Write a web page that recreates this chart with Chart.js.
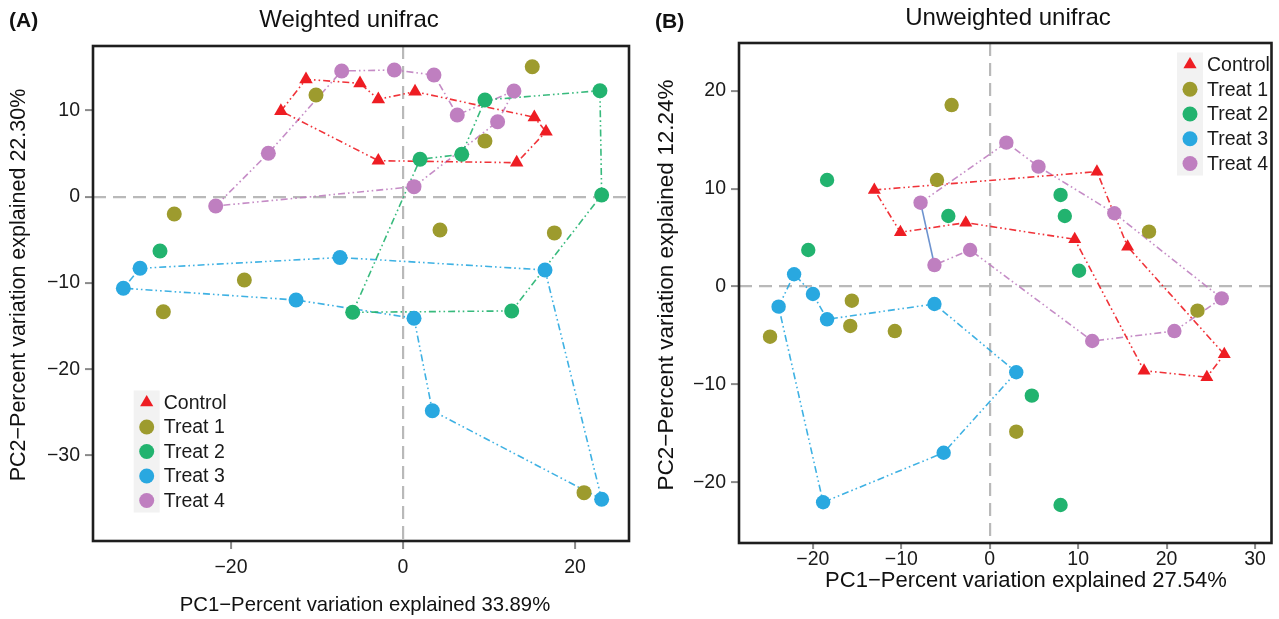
<!DOCTYPE html>
<html><head><meta charset="utf-8">
<script src="https://cdn.jsdelivr.net/npm/chart.js@4.4.1/dist/chart.umd.min.js"></script>
<style>
html,body{margin:0;padding:0;background:#fff;width:1279px;height:619px;overflow:hidden}
#wa{position:absolute;left:0;top:0;width:640px;height:619px}
#wb{position:absolute;left:640px;top:0;width:639px;height:619px}
</style></head><body>
<div id="wa"><canvas id="ca"></canvas></div>
<div id="wb"><canvas id="cb"></canvas></div>
<script>
// ---------- data ----------
const SERIES = ['Control', 'Treat 1', 'Treat 2', 'Treat 3', 'Treat 4'];
const COLORS = ['#ee1d23', '#9d9b2e', '#22b36f', '#29a8e0', '#bf7fc0'];

// Panel A: Weighted unifrac  [PC1, PC2]
const A_CONTROL = [[-14.2,9.93],[-11.28,13.6],[-5.0,13.14],[-2.87,11.29],[1.40,12.17],[15.27,9.2],[16.63,7.53],[13.22,3.94],[-2.87,4.17]];
const A_T1 = [[-10.12,11.79],[-26.6,-2.0],[15.03,15.06],[9.53,6.45],[4.3,-3.86],[17.6,-4.2],[-18.45,-9.65],[-27.87,-13.33],[21.05,-34.3]];
const A_T2 = [[-5.85,-13.4],[1.98,4.33],[6.83,4.91],[9.53,11.2],[22.9,12.28],[23.1,0.2],[12.64,-13.24],[-28.26,-6.3]];
const A_T3 = [[-30.58,-8.3],[-7.33,-7.05],[16.51,-8.49],[23.1,-35.06],[3.41,-24.8],[1.28,-14.09],[-12.44,-11.97],[-32.52,-10.61]];
const A_T4 = [[-21.78,-1.08],[-15.66,5.03],[-7.13,14.57],[-1.01,14.68],[3.6,14.1],[6.31,9.47],[12.9,12.25],[11.0,8.69],[1.28,1.16]];
// outline paths (indices, closed)
const A_CONTROL_HULL = [0,1,2,3,4,5,6,7,8];
const A_T1_HULL = [];
const A_T2_HULL = [0,1,2,3,4,5,6];
const A_T3_HULL = [0,1,2,3,4,5,6,7];
const A_T4_HULL = [0,1,2,3,4,5,6,7,8];

// Panel B: Unweighted unifrac
const B_CONTROL = [[-13.05,9.87],[12.12,11.74],[15.59,4.08],[26.52,-6.92],[24.55,-9.26],[17.45,-8.59],[9.61,4.83],[-2.71,6.53],[-10.1,5.55]];
const B_T1 = [[-4.31,18.54],[-5.96,10.89],[-15.59,-1.44],[-15.77,-4.02],[-10.73,-4.54],[-24.84,-5.12],[18.01,5.61],[23.49,-2.46],[3.0,-14.82]];
const B_T2 = [[-18.39,10.89],[-4.68,7.21],[-20.52,3.74],[8.01,9.36],[8.49,7.21],[10.1,1.62],[4.76,-11.14],[8.01,-22.31]];
const B_T3 = [[-23.87,-2.05],[-22.12,1.26],[-19.99,-0.76],[-18.39,-3.34],[-6.25,-1.78],[3.0,-8.75],[-5.21,-16.97],[-18.84,-22.03]];
const B_T4 = [[-7.82,8.57],[1.88,14.7],[5.51,12.25],[14.09,7.49],[26.23,-1.2],[20.88,-4.54],[11.59,-5.56],[-2.22,3.74],[-6.25,2.2]];
const B_CONTROL_HULL = [0,1,2,3,4,5,6,7,8];
const B_T1_HULL = [];
const B_T2_HULL = [];
const B_T3_HULL = [0,1,2,3,4,5,6,7];
const B_T4_HULL = [0,1,2,3,4,5,6,7,8];

// tick values
const A_X_TICKS = [-20, 0, 20];
const A_Y_TICKS = [-30, -20, -10, 0, 10];
const B_X_TICKS = [-20, -10, 0, 10, 20, 30];
const B_Y_TICKS = [-20, -10, 0, 10, 20];

// ---------- drawing ----------
const FONT = '"Liberation Sans", Arial, Helvetica, sans-serif';
const fmt = v => (v < 0 ? '\u2212' + Math.abs(v) : String(v));

function hexA(h, a) {
  const n = parseInt(h.slice(1), 16);
  return `rgba(${n >> 16},${(n >> 8) & 255},${n & 255},${a})`;
}

function buildDatasets(groups, hulls, radius, closeFix) {
  const ds = [];
  groups.forEach((pts, i) => {
    const hull = hulls[i];
    if (hull.length) {
      const path = hull.map(k => ({x: pts[k][0], y: pts[k][1]}));
      path.push({x: pts[hull[0]][0], y: pts[hull[0]][1]});
      const last = path.length - 1;
      const d = {
        label: SERIES[i] + ' outline', data: path, showLine: true, pointRadius: 0,
        borderColor: hexA(COLORS[i], 0.9), borderWidth: 1.6,
        borderDash: [7, 3, 1.6, 3, 1.6, 3], order: 10, fill: false
      };
      if (closeFix && closeFix === i) {
        d.segment = {
          borderColor: c => c.p1DataIndex === last ? '#6d93cf' : undefined,
          borderDash: c => c.p1DataIndex === last ? [] : undefined
        };
      }
      ds.push(d);
    }
  });
  groups.forEach((pts, i) => {
    ds.push({
      label: SERIES[i], data: pts.map(p => ({x: p[0], y: p[1]})),
      pointStyle: i === 0 ? 'triangle' : 'circle',
      pointRadius: i === 0 ? radius + 0.3 : radius,
      pointBackgroundColor: COLORS[i], pointBorderWidth: 0,
      borderColor: COLORS[i], order: 5 - i
    });
  });
  return ds;
}

const panelPlugin = {
  id: 'panel',
  afterDraw(chart, args, o) {
    const ctx = chart.ctx, a = chart.chartArea;
    ctx.save();
    ctx.strokeStyle = '#1e1e1e'; ctx.lineWidth = 2.6;
    ctx.strokeRect(a.left, a.top, a.right - a.left, a.bottom - a.top);
    ctx.fillStyle = '#111';
    ctx.textBaseline = 'middle';
    // panel letter
    ctx.font = 'bold 21px ' + FONT; ctx.textAlign = 'left';
    ctx.fillText(o.letter, o.letterX, o.letterY);
    // title
    ctx.font = o.titleSize + 'px ' + FONT; ctx.textAlign = 'center';
    ctx.fillText(o.title, o.titleX, o.titleY);
    // x title
    ctx.font = o.xTitleSize + 'px ' + FONT;
    ctx.fillText(o.xTitle, o.xTitleX, o.xTitleY);
    // y title
    ctx.save();
    ctx.font = o.yTitleSize + 'px ' + FONT;
    ctx.translate(o.yTitleX, o.yTitleY); ctx.rotate(-Math.PI / 2);
    ctx.fillText(o.yTitle, 0, 0);
    ctx.restore();
    // legend
    const L = o.legend;
    ctx.fillStyle = '#f2f2f2';
    ctx.fillRect(L.x - 13, L.y - 12, 26, L.step * (SERIES.length - 1) + 24);
    SERIES.forEach((s, i) => {
      const y = L.y + i * L.step;
      ctx.fillStyle = COLORS[i];
      Chart.helpers.drawPoint(ctx, {pointStyle: i === 0 ? 'triangle' : 'circle', radius: i === 0 ? 7.6 : 7.5, borderWidth: 0, rotation: 0}, L.x, y);
      ctx.fillStyle = '#1a1a1a';
      ctx.font = '19.5px ' + FONT; ctx.textAlign = 'left';
      ctx.fillText(s, L.x + 17, y + 1);
    });
    ctx.restore();
  }
};

function makeChart(id, p) {
  const gridColor = c => (c.tick && c.tick.value === 0 ? '#b9b9b9' : 'rgba(0,0,0,0)');
  const axis = (min, max, ticks, fit, pad, tl, fs) => ({
    type: 'linear', min, max,
    afterBuildTicks: s => { s.ticks = ticks.map(v => ({value: v})); },
    afterFit: fit,
    ticks: {callback: v => fmt(v), font: {family: FONT, size: fs, lineHeight: 1.0}, color: '#1a1a1a', padding: pad, autoSkip: false, maxRotation: 0},
    grid: {color: gridColor, lineWidth: 2.2, drawTicks: true, tickLength: tl, tickColor: '#8a8a8a', tickWidth: 2},
    border: {display: false, dash: [13, 7]}
  });
  return new Chart(document.getElementById(id), {
    type: 'scatter',
    data: {datasets: buildDatasets(p.groups, p.hulls, p.radius, p.closeFix)},
    options: {
      responsive: true, maintainAspectRatio: false, animation: false,
      layout: {padding: {top: p.area.top, right: p.W - p.area.right, left: 0, bottom: 0}},
      plugins: {legend: {display: false}, tooltip: {enabled: false}, panel: p.text},
      scales: {
        x: axis(p.x[0], p.x[1], p.xTicks, s => { s.height = p.H - p.area.bottom; }, p.xPad, p.tl, p.fs),
        y: axis(p.y[0], p.y[1], p.yTicks, s => { s.width = p.area.left; }, 5, 8, p.fs)
      }
    },
    plugins: [panelPlugin]
  });
}

makeChart('ca', {
  W: 640, H: 619, area: {left: 93, top: 46, right: 629, bottom: 541},
  x: [-36.05, 26.28], y: [-39.9, 17.46], xTicks: A_X_TICKS, yTicks: A_Y_TICKS, xPad: 9, tl: 8, fs: 19.5,
  groups: [A_CONTROL, A_T1, A_T2, A_T3, A_T4],
  hulls: [A_CONTROL_HULL, A_T1_HULL, A_T2_HULL, A_T3_HULL, A_T4_HULL], radius: 7.5,
  text: {
    letter: '(A)', letterX: 9, letterY: 21,
    title: 'Weighted unifrac', titleX: 349, titleY: 20, titleSize: 24,
    xTitle: 'PC1\u2212Percent variation explained 33.89%', xTitleX: 365, xTitleY: 605, xTitleSize: 20.3,
    yTitle: 'PC2\u2212Percent variation explained 22.30%', yTitleX: 19, yTitleY: 285, yTitleSize: 21.5,
    legend: {x: 146.7, y: 402.5, step: 24.5}
  }
});

makeChart('cb', {
  W: 639, H: 619, area: {left: 99, top: 43, right: 637, bottom: 543},
  x: [-28.35, 31.86], y: [-26.19, 24.88], xTicks: B_X_TICKS, yTicks: B_Y_TICKS, xPad: 1, tl: 6, fs: 19.5,
  groups: [B_CONTROL, B_T1, B_T2, B_T3, B_T4],
  hulls: [B_CONTROL_HULL, B_T1_HULL, B_T2_HULL, B_T3_HULL, B_T4_HULL], radius: 7.2, closeFix: 4,
  text: {
    letter: '(B)', letterX: 15, letterY: 22,
    title: 'Unweighted unifrac', titleX: 368, titleY: 18, titleSize: 24,
    xTitle: 'PC1\u2212Percent variation explained 27.54%', xTitleX: 386, xTitleY: 581, xTitleSize: 22,
    yTitle: 'PC2\u2212Percent variation explained 12.24%', yTitleX: 27, yTitleY: 285, yTitleSize: 22.5,
    legend: {x: 550, y: 64.5, step: 24.75}
  }
});
</script>
</body></html>
